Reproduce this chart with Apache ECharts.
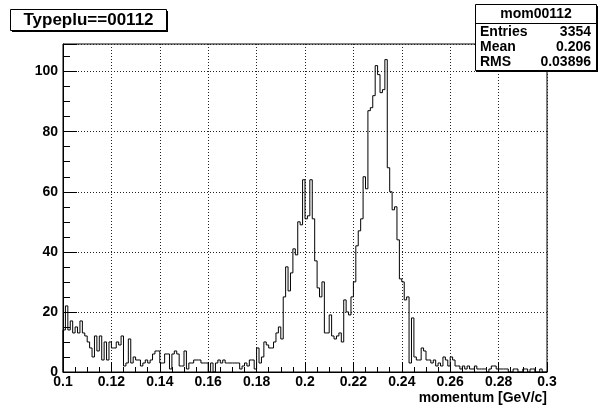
<!DOCTYPE html>
<html><head><meta charset="utf-8">
<script src="https://cdn.jsdelivr.net/npm/echarts@6/dist/echarts.min.js"></script>
<style>html,body{margin:0;padding:0;background:#fff}#c{width:599px;height:411px}</style>
</head><body><div id="c"></div>
<script>
const histTitle = 'Typeplu==00112';
const statsName = 'mom00112';
const statsLabels = ['Entries', 'Mean', 'RMS'];
const statsValues = ['3354', '0.206', '0.03896'];
const xAxisTitle = 'momentum [GeV/c]';
const binLow = 0.1;
const binWidth = 0.001;
const counts = [
  14,22,14,17,13,15,13,17,13,12,
  10,8,5,12,7,12,4,10,4,10,
  8,8,10,9,12,2,3,11,3,5,
  4,4,2,3,4,3,4,6,7,7,
  3,3,6,6,1,6,7,6,2,2,
  7,1,3,3,4,4,4,3,3,3,
  0,3,0,3,4,3,4,3,3,3,
  3,3,3,1,2,3,2,4,4,1,
  8,3,5,10,9,8,8,10,13,15,
  11,25,35,27,33,41,39,50,49,64,
  51,52,64,51,37,28,25,30,13,13,
  19,12,11,12,13,10,24,20,19,25,
  30,42,47,51,65,61,87,88,92,102,
  99,93,94,104,68,60,54,55,44,31,
  30,24,25,3,18,5,4,4,8,7,
  4,4,3,4,2,3,2,5,4,2,
  5,4,2,2,1,2,1,2,1,1,
  2,1,1,1,1,0,1,2,2,1,
  1,1,1,1,0,0,1,1,0,0,
  1,1,0,1,1,0,0,1,0,0
];
const xMin = 0.1, xMax = 0.3, xStep = 0.02;
const yMin = 0, yMax = 109.2, yStep = 20;

const pts = [[binLow, 0]];
counts.forEach((c, i) => pts.push([+(binLow + i * binWidth).toFixed(4), c]));
const hiEdge = +(binLow + counts.length * binWidth).toFixed(4);
pts.push([hiEdge, counts[counts.length - 1]]);
pts.push([hiEdge, 0]);

const F = "'Liberation Sans', Arial, Helvetica, sans-serif";
const chart = echarts.init(document.getElementById('c'), null, {renderer: 'canvas'});
const gridStyle = {color: '#222', width: 1, type: [1, 2]};
chart.setOption({
  animation: false,
  backgroundColor: '#fff',
  grid: {left: 63, right: 52, top: 44, bottom: 39, show: true, borderColor: '#000', borderWidth: 1, backgroundColor: 'transparent'},
  xAxis: {
    type: 'value', min: xMin, max: xMax, interval: xStep,
    axisLine: {show: true, onZero: false, lineStyle: {color: '#000', width: 1}},
    axisTick: {show: true, inside: true, length: 10, lineStyle: {color: '#000'}},
    minorTick: {show: true, splitNumber: 4, length: 5, lineStyle: {color: '#000'}},
    splitLine: {show: true, lineStyle: gridStyle},
    axisLabel: {margin: 3, color: '#000', fontFamily: F, fontWeight: 'bold', fontSize: 14,
      formatter: v => String(+v.toFixed(3))}
  },
  yAxis: {
    type: 'value', min: yMin, max: yMax, interval: yStep,
    axisLine: {show: true, onZero: false, lineStyle: {color: '#000', width: 1}},
    axisTick: {show: true, inside: true, length: 14, lineStyle: {color: '#000'}},
    minorTick: {show: true, splitNumber: 4, length: 7, lineStyle: {color: '#000'}},
    splitLine: {show: true, lineStyle: gridStyle},
    axisLabel: {margin: 5, color: '#000', fontFamily: F, fontWeight: 'bold', fontSize: 14, showMaxLabel: false,
      formatter: v => (Math.abs(v % yStep) < 1e-6 ? String(Math.round(v)) : '')}
  },
  series: [{
    type: 'line', data: pts, step: 'end', showSymbol: false, symbol: 'none',
    lineStyle: {color: '#000', width: 1}, z: 5
  }],
  graphic: [
    {type: 'rect', shape: {x: 12, y: 11, width: 156, height: 21}, style: {fill: '#000'}, z: 10},
    {type: 'rect', shape: {x: 10.5, y: 9.5, width: 156, height: 21}, style: {fill: '#fff', stroke: '#000', lineWidth: 1}, z: 11},
    {type: 'text', x: 88.5, y: 20, style: {text: histTitle, fill: '#000', font: "bold 17px " + F, textAlign: 'center', textVerticalAlign: 'middle'}, z: 12},
    {type: 'rect', shape: {x: 476, y: 6, width: 122, height: 66}, style: {fill: '#000'}, z: 10},
    {type: 'rect', shape: {x: 475.5, y: 4.5, width: 121, height: 66}, style: {fill: '#fff', stroke: '#000', lineWidth: 1}, z: 11},
    {type: 'line', shape: {x1: 475.5, y1: 23.5, x2: 596.5, y2: 23.5}, style: {stroke: '#000', lineWidth: 1}, z: 12},
    {type: 'text', x: 536, y: 14.5, style: {text: statsName, fill: '#000', font: "bold 14px " + F, textAlign: 'center', textVerticalAlign: 'middle'}, z: 12},
    ...statsLabels.map((s, i) => ({type: 'text', x: 480, y: 32.5 + i * 14.7, style: {text: s, fill: '#000', font: "bold 14px " + F, textAlign: 'left', textVerticalAlign: 'middle'}, z: 12})),
    ...statsValues.map((s, i) => ({type: 'text', x: 591, y: 32.5 + i * 14.7, style: {text: s, fill: '#000', font: "bold 14px " + F, textAlign: 'right', textVerticalAlign: 'middle'}, z: 12})),
    {type: 'text', x: 547, y: 398, style: {text: xAxisTitle, fill: '#000', font: "bold 14px " + F, textAlign: 'right', textVerticalAlign: 'middle'}, z: 12}
  ]
});
</script></body></html>
